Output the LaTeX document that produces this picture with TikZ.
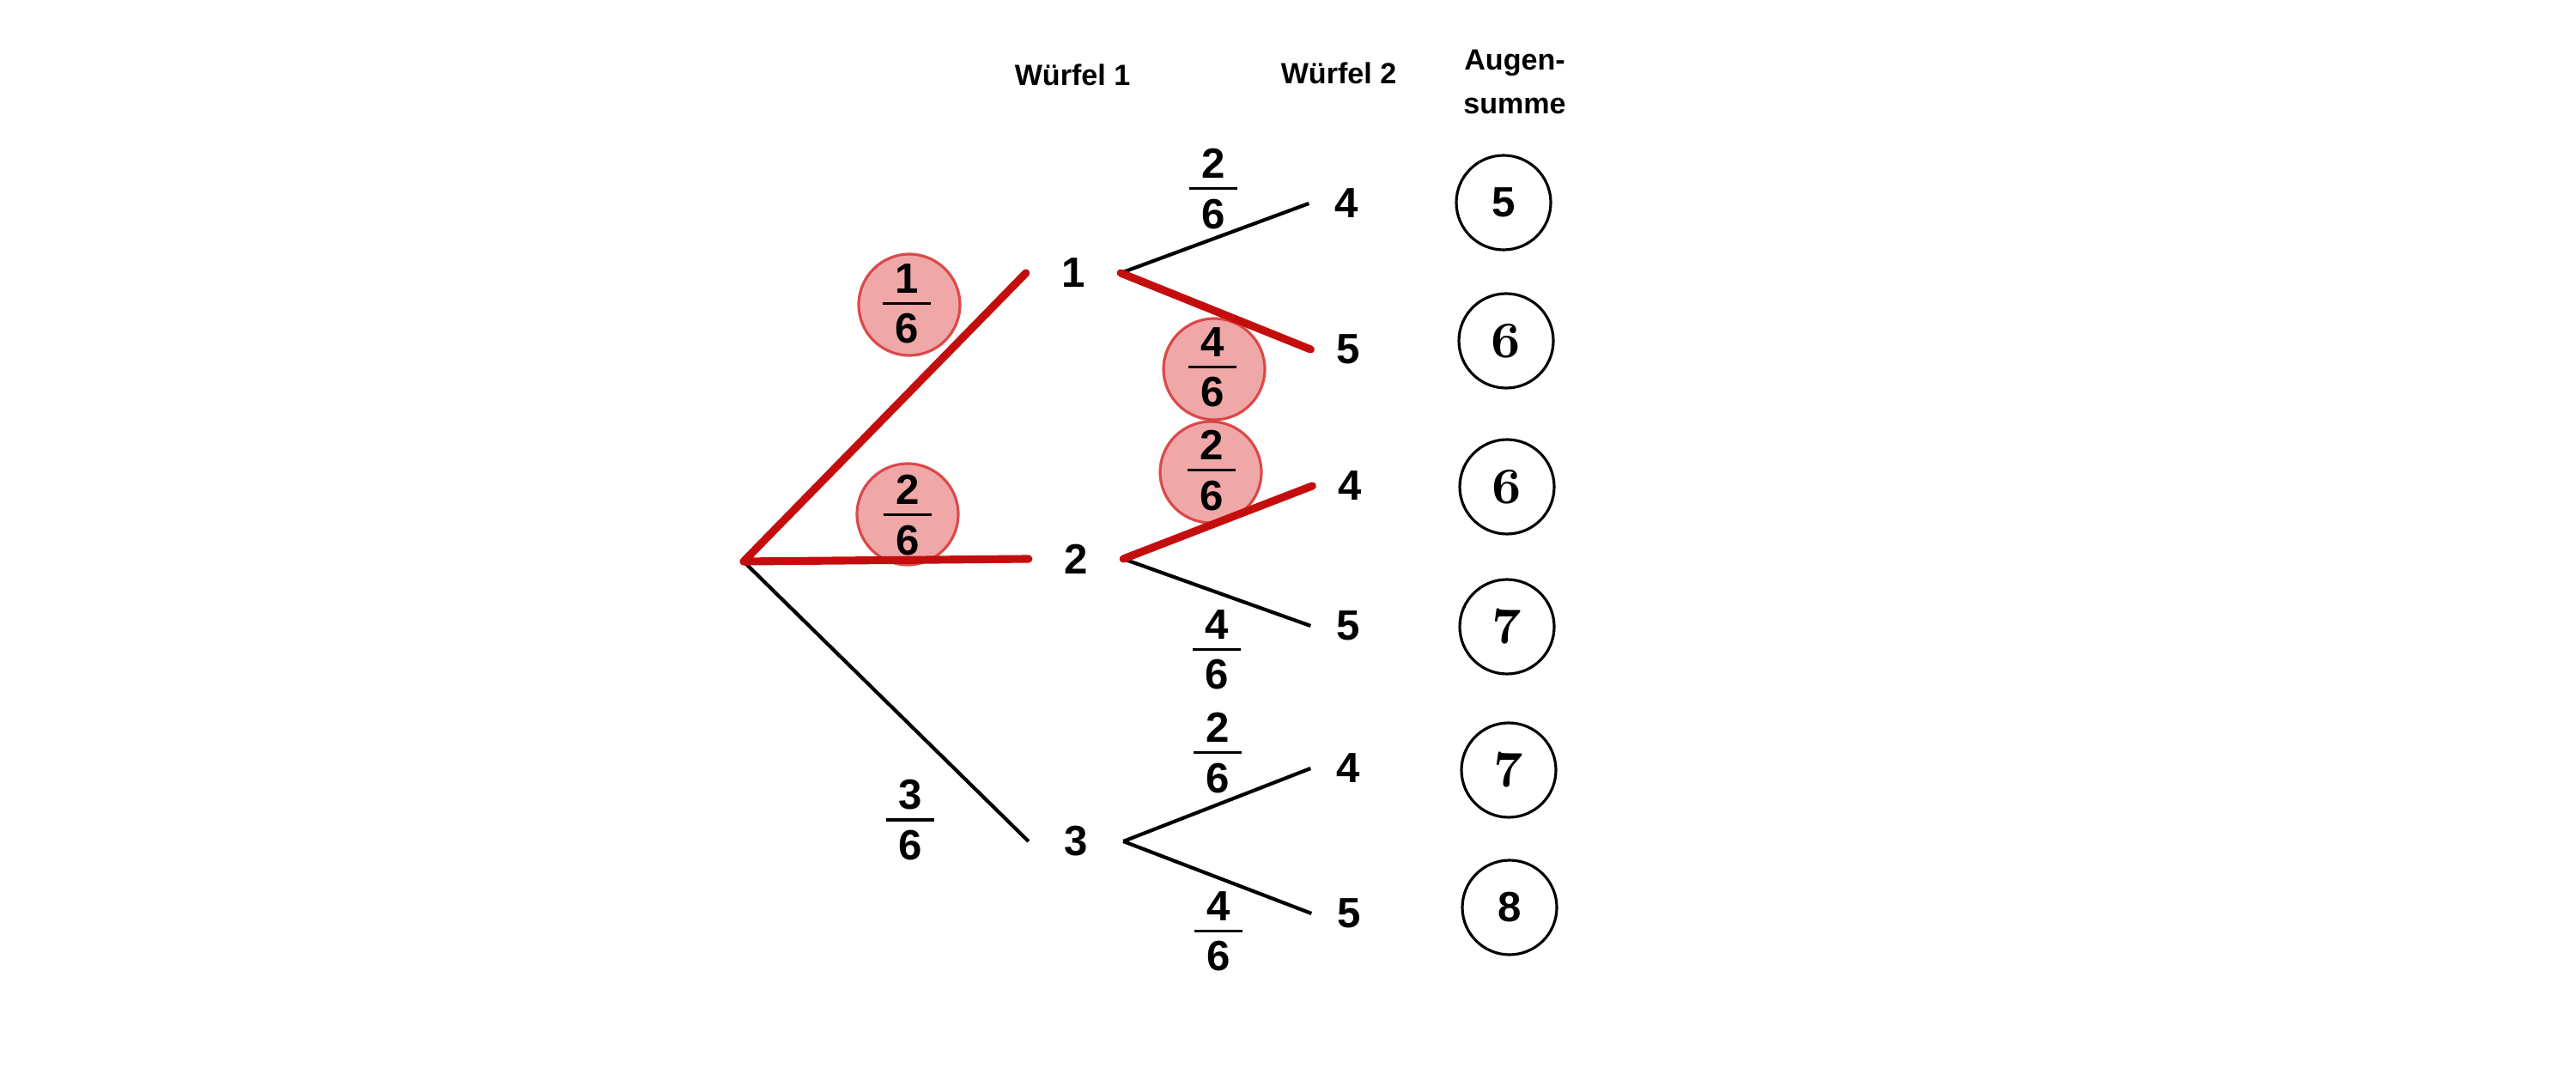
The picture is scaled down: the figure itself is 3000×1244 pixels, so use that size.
\documentclass[tikz,border=0pt]{standalone}
\usepackage{fontspec}
\usepackage{tikz}
\newfontfamily\arial{Liberation Sans}
\newfontfamily\cmfett{lmroman10-bold}[Extension=.otf]
\definecolor{pfadrot}{RGB}{196,14,14}
\definecolor{kreisrot}{RGB}{220,60,60}
\definecolor{randrot}{RGB}{215,50,50}
\newcommand{\bruch}[2]{\vbox{\hbox to 16pt{\hss#1\hss}\kern3pt\hrule height0.9pt\kern3pt\hbox to 16pt{\hss#2\hss}}}

\begin{document}
\begin{tikzpicture}[x=0.1mm,y=-0.1mm,
    num/.style={font=\arial\bfseries\fontsize{14}{16}\selectfont},
    wuerfel1/.style={num,minimum width=10.9mm,inner sep=0pt},
    wuerfel2/.style={num,minimum width=8.6mm,inner sep=0pt},
    anteil/.style={num,inner sep=0pt},
    kopf/.style={font=\arial\bfseries\fontsize{9.7}{12}\selectfont,anchor=base},
    ast/.style={line width=1.2pt},
    pfad/.style={line width=2.6pt,draw=pfadrot,line cap=round,line join=round},
    markiert/.style={circle,minimum size=11.8mm,inner sep=0pt,fill=kreisrot,fill opacity=0.45,draw=randrot,draw opacity=0.85,line width=0.9pt},
    summe/.style={circle,draw,line width=0.9pt,minimum size=11mm,inner sep=0pt},
    sumsans/.style={summe,font=\arial\bfseries\fontsize{14}{16}\selectfont},
    sumserif/.style={summe,font=\cmfett\fontsize{17}{20}\selectfont}]
    \useasboundingbox (0,0) rectangle (3000,1244);
    \node[kopf] (h1) at (1249,100) {Würfel 1};
    \node[kopf] (h2) at (1559,98) {Würfel 2};
    \node[kopf] (h3) at (1764,82) {Augen-};
    \node[kopf] (h4) at (1764,133) {summe};
    \node[markiert] (k1) at (1059,355) {};
    \node[markiert] (k2) at (1057,599) {};
    \node[markiert] (k3) at (1414,430) {};
    \node[markiert] (k4) at (1410,550) {};
    \coordinate (root) at (866,654);
    \node[wuerfel1] (a1) at (1250,318) {1};
    \node[wuerfel1] (a2) at (1253,651) {2};
    \node[wuerfel1] (a3) at (1253,980) {3};
    \node[wuerfel2] (b11) at (1568,237) {4};
    \node[wuerfel2] (b12) at (1570,407) {5};
    \node[wuerfel2] (b21) at (1572,566) {4};
    \node[wuerfel2] (b22) at (1570,729) {5};
    \node[wuerfel2] (b31) at (1570,895) {4};
    \node[wuerfel2] (b32) at (1571,1064) {5};
    \draw[ast] (root) -- (a3.west);
    \draw[ast] (a1.east) -- (b11.west);
    \draw[ast] (a2.east) -- (b22.west);
    \draw[ast] (a3.east) -- (b31.west);
    \draw[ast] (a3.east) -- (b32.west);
    \draw[pfad] (a1.west) -- (root) -- (a2.west);
    \draw[pfad] (a1.east) -- (b12.west);
    \draw[pfad] (a2.east) -- (b21.west);
    \node[anteil] (p1) at (1056,354) {\bruch{1}{6}};
    \node[anteil] (p2) at (1057,600) {\bruch{2}{6}};
    \node[anteil] (p3) at (1060,955) {\bruch{3}{6}};
    \node[anteil] (q11) at (1413,220) {\bruch{2}{6}};
    \node[anteil] (q12) at (1412,428) {\bruch{4}{6}};
    \node[anteil] (q21) at (1411,548) {\bruch{2}{6}};
    \node[anteil] (q22) at (1417,757) {\bruch{4}{6}};
    \node[anteil] (q31) at (1418,877) {\bruch{2}{6}};
    \node[anteil] (q32) at (1419,1085) {\bruch{4}{6}};
    \node[sumsans] (s1) at (1751,236) {5};
    \node[sumserif] (s2) at (1754,397) {6};
    \node[sumserif] (s3) at (1755,567) {6};
    \node[sumserif] (s4) at (1755,730) {7};
    \node[sumserif] (s5) at (1757,897) {7};
    \node[sumsans] (s6) at (1758,1057) {8};
\end{tikzpicture}
\end{document}
